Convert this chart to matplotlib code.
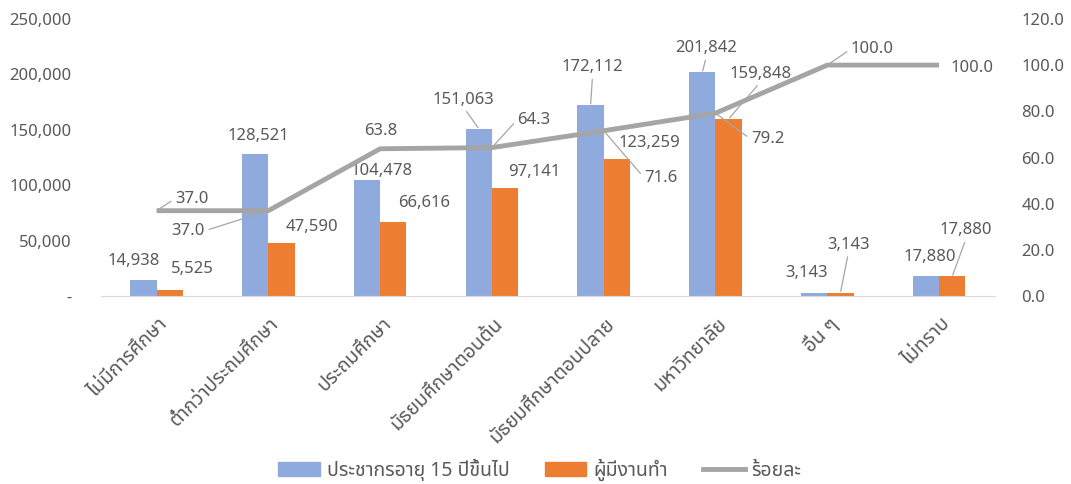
import matplotlib
matplotlib.use("Agg")
import matplotlib.pyplot as plt
from matplotlib import font_manager
from matplotlib.ticker import FuncFormatter, MultipleLocator
from matplotlib.patches import Patch
from matplotlib.lines import Line2D
import matplotlib.transforms as mtransforms
import numpy as np

# ---------------- data ----------------
categories = ["ไม่มีการศึกษา", "ต่ำกว่าประถมศึกษา", "ประถมศึกษา", "มัธยมศึกษาตอนต้น",
              "มัธยมศึกษาตอนปลาย", "มหาวิทยาลัย", "อื่น ๆ", "ไม่ทราบ"]
population = [14938, 128521, 104478, 151063, 172112, 201842, 3143, 17880]
employed = [5525, 47590, 66616, 97141, 123259, 159848, 3143, 17880]
percent = [37.0, 37.0, 63.8, 64.3, 71.6, 79.2, 100.0, 100.0]
series_names = ["ประชากรอายุ 15 ปีขึ้นไป", "ผู้มีงานทำ", "ร้อยละ"]

# ---------------- font with Thai support ----------------
def find_thai_family():
    try:
        from fontTools.ttLib import TTFont
    except Exception:
        return None
    prefs = ["Noto Sans Thai", "Noto Sans Thai UI", "Tahoma", "Leelawadee UI", "Garuda",
             "Loma", "Norasi", "Sarabun", "Noto Sans", "DejaVu Sans", "Noto Serif Thai"]
    found = {}
    for f in font_manager.fontManager.ttflist:
        try:
            tt = TTFont(f.fname, fontNumber=0, lazy=True)
            cmap = tt.getBestCmap()
            if cmap and 0x0E01 in cmap and 0x0E49 in cmap:
                found.setdefault(f.name, f.fname)
        except Exception:
            continue
    for p in prefs:
        if p in found:
            return p
    if found:
        return sorted(found)[0]
    return None

thai = find_thai_family()
families = ([thai] if thai else []) + ["DejaVu Sans"]
plt.rcParams["font.family"] = families

TXT = "#595959"
BLUE = "#8faadc"
ORANGE = "#ed7d31"
GRAY = "#a5a5a5"

fig = plt.figure(figsize=(10.71, 4.84), dpi=100)
ax = fig.add_axes([0.094, 0.388, 0.835, 0.573])
ax2 = ax.twinx()

x = np.arange(len(categories))
w = 0.235
ax.bar(x - w / 2, population, w, color=BLUE, zorder=2)
ax.bar(x + w / 2, employed, w, color=ORANGE, zorder=2)
ax2.plot(x, percent, color=GRAY, lw=3.5, solid_joinstyle="round", solid_capstyle="butt")

ax.set_xlim(-0.5, len(categories) - 0.5)
ax.set_ylim(0, 250000)
ax2.set_ylim(0, 120)
ax.yaxis.set_major_locator(MultipleLocator(50000))
ax2.yaxis.set_major_locator(MultipleLocator(20))
ax.yaxis.set_major_formatter(FuncFormatter(lambda v, p: "-" if v == 0 else f"{int(v):,}"))
ax2.yaxis.set_major_formatter(FuncFormatter(lambda v, p: f"{v:.1f}"))

for a in (ax, ax2):
    for s in a.spines.values():
        s.set_visible(False)
    a.tick_params(axis="both", length=0, labelsize=12, labelcolor=TXT)
ax.spines["bottom"].set_visible(True)
ax.spines["bottom"].set_color("#d9d9d9")
ax.tick_params(axis="y", pad=21)
ax2.tick_params(axis="y", pad=19)

ax.set_xticks(x)
ax.set_xticklabels(categories, rotation=45, ha="right", va="center",
                   rotation_mode="anchor", fontsize=14, color=TXT)
offset = mtransforms.ScaledTranslation(8 / 100, -20 / 100, fig.dpi_scale_trans)
for lab in ax.get_xticklabels():
    lab.set_transform(lab.get_transform() + offset)

lead = dict(arrowstyle="-", color="#a6a6a6", lw=0.9, shrinkA=1, shrinkB=1)

def lab(axis, xv, yv, text, dx, dy, leader=False, relpos=(0.5, 0.5)):
    kw = {}
    if leader:
        a = dict(lead)
        a["relpos"] = relpos
        kw["arrowprops"] = a
    axis.annotate(text, xy=(xv, yv), xytext=(dx, dy), textcoords="offset pixels",
                  ha="center", va="center", fontsize=12, color=TXT, zorder=5, **kw)

# bar label offsets (pixels) and leader flags
pop_off = [(-10, 19, False), (3, 18, False), (15, 9, False), (-15, 29, True),
           (2, 38, True), (4, 24, True), (-8, 20, False), (4, 19, False)]
emp_off = [(23, 21, False), (30, 16, False), (31, 19, False), (29, 16, False),
           (33, 16, False), (32, 45, True), (8, 48, True), (14, 46, True)]
for i in range(len(categories)):
    dx, dy, ld = pop_off[i]
    lab(ax, x[i] - w / 2, population[i], f"{population[i]:,}", dx, dy, ld, (0.5, 0.0))
    dx, dy, ld = emp_off[i]
    lab(ax, x[i] + w / 2, employed[i], f"{employed[i]:,}", dx, dy, ld, (0.5, 0.0))

pct_off = [(35, 12, True, (0.0, 0.5)), (-80, -20, True, (1.0, 0.5)), (1, 18, False, (0.5, 0.5)),
           (42, 28, True, (0.0, 0.5)), (57, -47, True, (0.0, 0.5)), (52, -26, True, (0.0, 0.5)),
           (45, 16, True, (0.0, 0.5)), (33, -3, False, (0.5, 0.5))]
for i in range(len(categories)):
    dx, dy, ld, rp = pct_off[i]
    lab(ax2, x[i], percent[i], f"{percent[i]:.1f}", dx, dy, ld, rp)

handles = [Patch(color=BLUE), Patch(color=ORANGE), Line2D([], [], color=GRAY, lw=3.5)]
fig.legend(handles, series_names, loc="center", bbox_to_anchor=(0.504, 0.029), ncol=3,
           frameon=False, fontsize=14, labelcolor=TXT, handlelength=2.15, handleheight=0.72,
           columnspacing=1.8, handletextpad=0.35)

fig.savefig("out.png", dpi=100)
